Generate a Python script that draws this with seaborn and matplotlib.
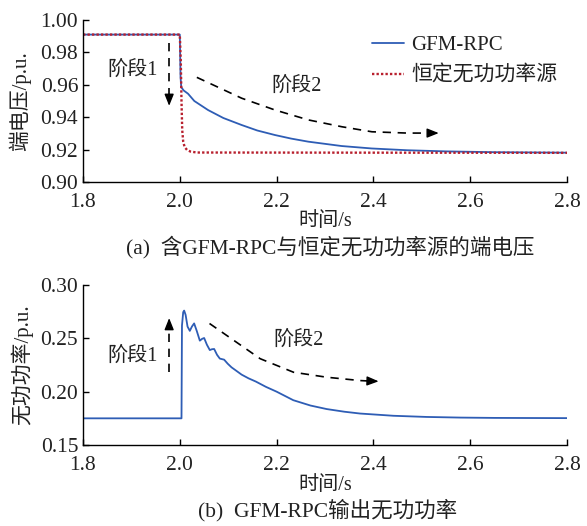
import numpy as np
import pandas as pd
import matplotlib
matplotlib.use("Agg")
import matplotlib.pyplot as plt
import seaborn as sns
from matplotlib.ticker import FormatStrFormatter

# ---------------- data ----------------
t_gfm = [1.80, 2.000, 2.0015, 2.003, 2.008, 2.017, 2.030, 2.0585, 2.090, 2.1276,
         2.160, 2.1965, 2.230, 2.2654, 2.3345, 2.3965, 2.470, 2.550, 2.650, 2.800]
v_gfm = [0.9910, 0.9910, 0.9650, 0.9585, 0.9565, 0.9545, 0.9500, 0.9444, 0.9395, 0.9352,
         0.9318, 0.9290, 0.9268, 0.9249, 0.9222, 0.9207, 0.9196, 0.9189, 0.9184, 0.9181]

t_cq = [1.80, 2.000, 2.002, 2.0035, 2.005, 2.007, 2.010, 2.015, 2.022, 2.035, 2.800]
v_cq = [0.9910, 0.9910, 0.9750, 0.9500, 0.9320, 0.9250, 0.9215, 0.9198, 0.9188, 0.9182, 0.9180]

t_q = [1.80, 2.0035, 2.0045, 2.007, 2.009, 2.012, 2.016, 2.0207, 2.025, 2.0296,
       2.035, 2.0414, 2.046, 2.0503, 2.056, 2.062, 2.0665, 2.071, 2.077, 2.0827,
       2.0916, 2.099, 2.1069, 2.117, 2.1276, 2.142, 2.157, 2.178, 2.200, 2.2345,
       2.270, 2.3034, 2.340, 2.3724, 2.4414, 2.510, 2.580, 2.650, 2.720, 2.800]
q_gfm = [0.1750, 0.1750, 0.2620, 0.2745, 0.2760, 0.2720, 0.2610, 0.2570, 0.2610, 0.2640,
         0.2570, 0.2478, 0.2495, 0.2503, 0.2440, 0.2390, 0.2398, 0.2400, 0.2345, 0.2310,
         0.2300, 0.2262, 0.2228, 0.2195, 0.2160, 0.2125, 0.2095, 0.2045, 0.2000, 0.1920,
         0.1870, 0.1837, 0.1812, 0.1795, 0.1774, 0.1763, 0.1757, 0.1754, 0.1753, 0.1752]

x_ticks = [1.8, 2.0, 2.2, 2.4, 2.6, 2.8]
v_ticks = [0.90, 0.92, 0.94, 0.96, 0.98, 1.00]
q_ticks = [0.15, 0.20, 0.25, 0.30]

# annotation guide paths (dashed arrows)
arr1_top_x = [1.978, 1.978]
arr1_top_y = [0.9860, 0.9540]
arr2_top_x = [2.0352, 2.128, 2.1971, 2.266, 2.3349, 2.397, 2.470, 2.515]
arr2_top_y = [0.9646, 0.9517, 0.9444, 0.9383, 0.9341, 0.9310, 0.9302, 0.9302]
arr2_top_tip = (2.535, 0.9302)

arr1_bot_x = [1.978, 1.978]
arr1_bot_y = [0.2182, 0.2620]
arr2_bot_x = [2.0614, 2.1661, 2.235, 2.3041, 2.3729, 2.390]
arr2_bot_y = [0.2639, 0.2309, 0.2182, 0.2135, 0.2104, 0.2100]
arr2_bot_tip = (2.4108, 0.2097)

BLUE = "#2e5db5"
RED = "#b8202e"
TXT = "#222222"

sns.set_style("ticks")
plt.rcParams["font.family"] = ["Liberation Serif", "Noto Sans CJK SC"]
plt.rcParams["axes.unicode_minus"] = False
plt.rcParams["text.color"] = TXT
plt.rcParams["axes.labelcolor"] = TXT
plt.rcParams["xtick.color"] = "black"
plt.rcParams["ytick.color"] = "black"
plt.rcParams["xtick.labelcolor"] = TXT
plt.rcParams["ytick.labelcolor"] = TXT

W, H = 587, 526
fig = plt.figure(figsize=(W / 100, H / 100), dpi=100)

def rect(l, t, r, b):
    return [l / W, 1 - b / H, (r - l) / W, (b - t) / H]

ax1 = fig.add_axes(rect(83, 20, 567, 182))
ax2 = fig.add_axes(rect(83, 285, 567, 445))

df_v1 = pd.DataFrame({"t": t_gfm, "v": v_gfm})
df_v2 = pd.DataFrame({"t": t_cq, "v": v_cq})
df_q = pd.DataFrame({"t": t_q, "q": q_gfm})

sns.lineplot(data=df_v1, x="t", y="v", ax=ax1, color=BLUE, lw=1.3,
             label="GFM-RPC", estimator=None, sort=False)
sns.lineplot(data=df_v2, x="t", y="v", ax=ax1, color=RED, lw=1.7,
             label="恒定无功功率源", estimator=None, sort=False)
ax1.lines[1].set_linestyle((0, (1, 0.9)))
ax1.lines[1].set_dash_capstyle("butt")

sns.lineplot(data=df_q, x="t", y="q", ax=ax2, color=BLUE, lw=1.3,
             estimator=None, sort=False, legend=False)

# legend
leg = ax1.legend(frameon=False, loc="upper left", bbox_to_anchor=(0.597, 0.903),
                 borderpad=0, borderaxespad=0, handlelength=1.55,
                 handletextpad=0.35, labelspacing=0.50, fontsize=15)
leg.get_lines()[1].set_linestyle((0, (1, 0.9)))

def style_axis(ax, yt, ylo, yhi):
    ax.set_xlim(1.8, 2.8)
    ax.set_ylim(ylo, yhi)
    ax.set_xticks(x_ticks)
    ax.set_yticks(yt)
    ax.xaxis.set_major_formatter(FormatStrFormatter("%.1f"))
    ax.yaxis.set_major_formatter(FormatStrFormatter("%.2f"))
    ax.tick_params(direction="in", length=4, width=1, labelsize=15.5)
    ax.tick_params(axis="x", pad=8)
    ax.tick_params(axis="y", pad=3.5)
    for s in ["top", "right"]:
        ax.spines[s].set_visible(False)
    for s in ["left", "bottom"]:
        ax.spines[s].set_linewidth(1.0)
        ax.spines[s].set_color("black")
    ax.set_xlabel("时间/s", fontsize=14.5)

style_axis(ax1, v_ticks, 0.90, 1.00)
style_axis(ax2, q_ticks, 0.15, 0.30)
ax1.set_ylabel("端电压/p.u.", fontsize=15)
ax2.set_ylabel("无功功率/p.u.", fontsize=15)
ax1.yaxis.set_label_coords(-0.108, 0.5)
ax2.yaxis.set_label_coords(-0.102, 0.5)
ax1.xaxis.set_label_coords(0.5, -0.188)
ax2.xaxis.set_label_coords(0.5, -0.191)

# dashed arrows
DASH = (0, (5, 4))
def dashed_arrow(ax, xs, ys, tip, lw=1.2):
    ax.plot(xs, ys, color="black", lw=lw, linestyle=DASH)
    ax.annotate("", xy=tip, xytext=(xs[-1], ys[-1]),
                arrowprops=dict(arrowstyle="-|>,head_length=0.7,head_width=0.28",
                                color="black", lw=1.0, shrinkA=0, shrinkB=0))

dashed_arrow(ax1, arr1_top_x, arr1_top_y, (1.978, 0.9470))
dashed_arrow(ax1, arr2_top_x, arr2_top_y, arr2_top_tip)
dashed_arrow(ax2, arr1_bot_x, arr1_bot_y, (1.978, 0.2690))
dashed_arrow(ax2, arr2_bot_x, arr2_bot_y, arr2_bot_tip)

ax1.text(1.9034, 0.969, "阶段1", fontsize=14.5, ha="center", va="center")
ax1.text(2.2405, 0.959, "阶段2", fontsize=14.5, ha="center", va="center")
ax2.text(1.9034, 0.233, "阶段1", fontsize=14.5, ha="center", va="center")
ax2.text(2.2446, 0.248, "阶段2", fontsize=14.5, ha="center", va="center")

fig.text(330 / W, 1 - 247 / H, "(a)  含GFM-RPC与恒定无功功率源的端电压",
         fontsize=15.5, ha="center", va="center")
fig.text(328 / W, 1 - 510 / H, "(b)  GFM-RPC输出无功功率",
         fontsize=15.5, ha="center", va="center")

fig.savefig("out.png", dpi=100)
